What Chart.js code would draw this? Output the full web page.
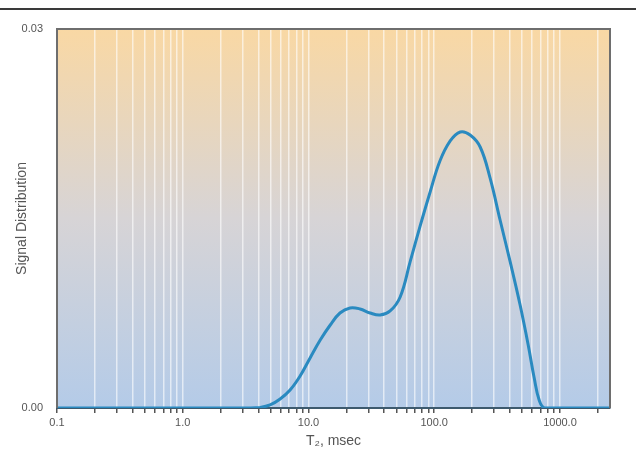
<!DOCTYPE html>
<html>
<head>
<meta charset="utf-8">
<script src="https://cdn.jsdelivr.net/npm/chart.js@4/dist/chart.umd.min.js"></script>
<style>
  html, body { margin: 0; padding: 0; background: #fff; }
  canvas { display: block; }
</style>
</head>
<body>
<canvas id="t2Chart" width="636" height="469"></canvas>
<script>
// T2 relaxation distribution
const t2Values = [0.1, 1.0, 3.43, 4.12, 4.95, 5.95, 7.14, 8.58, 10.3, 12.4, 14.9, 17.8, 21.4, 25.7, 30.9, 37.1,
  44.6, 53.6, 64.3, 77.3, 92.8, 111, 134, 161, 193, 232, 278, 334, 402, 482, 559, 624, 683, 749, 1000, 2500];
const signalValues = [0, 0, 0, 0.00004, 0.00024, 0.00071, 0.00142, 0.00253, 0.00396, 0.00538, 0.00657, 0.00752, 0.00792, 0.00784, 0.00752, 0.00736,
  0.00768, 0.00879, 0.01156, 0.01441, 0.0171, 0.01955, 0.02114, 0.02185, 0.02161, 0.02066, 0.01821, 0.01488, 0.01156, 0.00815, 0.00499, 0.00237, 0.00063, 0, 0, 0];

// log tick marks (every 1..9 per decade) and the labelled decades
const xTickValues = [0.1, 0.2, 0.3, 0.4, 0.5, 0.6, 0.7, 0.8, 0.9,
  1, 2, 3, 4, 5, 6, 7, 8, 9,
  10, 20, 30, 40, 50, 60, 70, 80, 90,
  100, 200, 300, 400, 500, 600, 700, 800, 900,
  1000, 2000];
const xTickLabels = { 0.1: '0.1', 1: '1.0', 10: '10.0', 100: '100.0', 1000: '1000.0' };
const yTickValues = [0, 0.03];

const points = t2Values.map((t, i) => ({ x: t, y: signalValues[i] }));

// gradient behind the plot + frame and the rule across the top
const plotDecor = {
  id: 'plotDecor',
  beforeDraw(chart) {
    const { ctx, chartArea: a } = chart;
    const g = ctx.createLinearGradient(0, a.top, 0, a.bottom);
    g.addColorStop(0, '#f9d8a4');
    g.addColorStop(0.5, '#d7d4d6');
    g.addColorStop(1, '#b4cbe8');
    ctx.save();
    ctx.fillStyle = g;
    ctx.fillRect(a.left, a.top, a.right - a.left, a.bottom - a.top);
    ctx.restore();
  },
  afterDraw(chart) {
    const { ctx, chartArea: a } = chart;
    ctx.save();
    ctx.strokeStyle = '#6e6e6e';
    ctx.lineWidth = 2;
    ctx.beginPath();
    ctx.moveTo(a.left, a.bottom);
    ctx.lineTo(a.left, a.top);
    ctx.lineTo(a.right, a.top);
    ctx.lineTo(a.right, a.bottom);
    ctx.stroke();
    ctx.strokeStyle = '#3a3a3a';
    ctx.beginPath();
    ctx.moveTo(0, 9);
    ctx.lineTo(chart.width, 9);
    ctx.stroke();
    ctx.restore();
  }
};

const ctx = document.getElementById('t2Chart').getContext('2d');
new Chart(ctx, {
  type: 'line',
  data: {
    datasets: [{
      data: points,
      borderColor: '#2a8ac0',
      borderWidth: 3,
      pointRadius: 0,
      fill: false,
      tension: 0.4
    }]
  },
  options: {
    responsive: false,
    animation: false,
    events: [],
    layout: { padding: { left: 0, right: 26, top: 29, bottom: 0 } },
    plugins: { legend: { display: false }, tooltip: { enabled: false } },
    scales: {
      x: {
        type: 'logarithmic',
        min: 0.1,
        max: 2500,
        afterBuildTicks: scale => { scale.ticks = xTickValues.map(v => ({ value: v })); },
        afterFit: scale => { scale.height = 61; },
        ticks: {
          autoSkip: false,
          maxRotation: 0,
          padding: 3,
          color: '#555',
          font: { family: 'Liberation Sans', size: 11 },
          callback: v => xTickLabels[v] || ''
        },
        grid: {
          color: 'rgba(255,255,255,0.6)',
          lineWidth: 1.5,
          tickColor: '#555',
          tickLength: 5
        },
        border: { color: '#3d5a6e', width: 2 },
        title: {
          display: true,
          text: 'T₂, msec',
          color: '#555',
          font: { family: 'Liberation Sans', size: 14 },
          padding: { top: 0, bottom: 19 }
        }
      },
      y: {
        min: 0,
        max: 0.03,
        afterBuildTicks: scale => { scale.ticks = yTickValues.map(v => ({ value: v })); },
        afterFit: scale => { scale.width = 57; },
        ticks: {
          padding: 14,
          color: '#555',
          font: { family: 'Liberation Sans', size: 11 },
          callback: v => v.toFixed(2)
        },
        grid: { display: false, drawTicks: false },
        border: { display: false },
        title: {
          display: true,
          text: 'Signal Distribution',
          color: '#555',
          font: { family: 'Liberation Sans', size: 14 },
          padding: { top: 14, bottom: 0 }
        }
      }
    }
  },
  plugins: [plotDecor]
});
</script>
</body>
</html>
